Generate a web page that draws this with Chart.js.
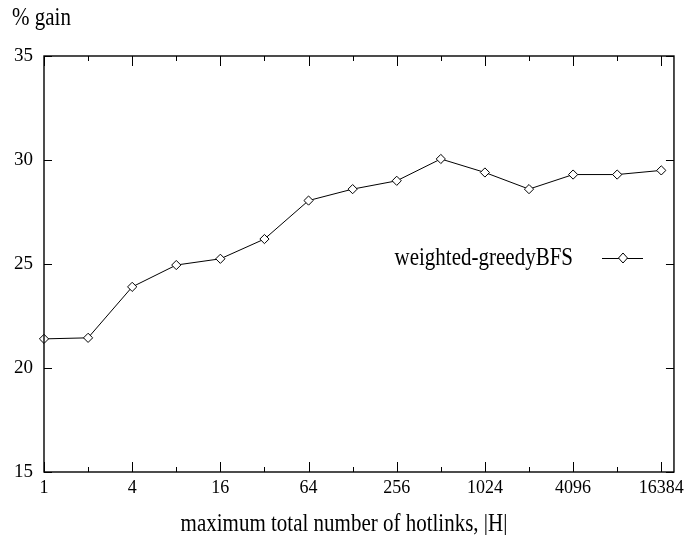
<!DOCTYPE html>
<html>
<head>
<meta charset="utf-8">
<script src="https://cdn.jsdelivr.net/npm/chart.js"></script>
<style>
  html, body { margin: 0; padding: 0; background: #fff; }
  #wrap { width: 689px; height: 535px; }
</style>
</head>
<body>
<div id="wrap"><canvas id="myChart" width="689" height="535"></canvas></div>
<script>
// hotlink budget |H| (powers of two) and % gain
var hotlinks = [1, 2, 4, 8, 16, 32, 64, 128, 256, 512, 1024, 2048, 4096, 8192, 16384];
var gain = [21.4, 21.45, 23.9, 24.95, 25.25, 26.2, 28.05, 28.6, 29.0, 30.05, 29.4, 28.6, 29.3, 29.3, 29.5];
var xTickLabels = [1, 4, 16, 64, 256, 1024, 4096, 16384];
var xMinorTicks = [2, 8, 32, 128, 512, 2048, 8192];
var yTickLabels = [15, 20, 25, 30, 35];

var serif = 'Liberation Serif';

// text in the original is a bit taller than wide
function tallText(ctx, text, x, y, align) {
    ctx.save();
    ctx.translate(x, y);
    ctx.scale(1, 1.2);
    ctx.textAlign = align;
    ctx.fillText(text, 0, 0);
    ctx.restore();
}

// frame, inward ticks, titles and legend drawn like the gnuplot original
var decorations = {
    id: 'decorations',
    afterDraw: function(chart) {
        var ctx = chart.ctx;
        var a = chart.chartArea;
        var xs = chart.scales.x;
        var ys = chart.scales.y;
        ctx.save();
        ctx.strokeStyle = '#000';
        ctx.lineWidth = 1.4;
        ctx.strokeRect(a.left, a.top, a.right - a.left, a.bottom - a.top);

        ctx.lineWidth = 1;
        ctx.beginPath();
        xTickLabels.forEach(function(v) {
            var px = Math.round(xs.getPixelForValue(v)) + 0.5;
            ctx.moveTo(px, a.bottom); ctx.lineTo(px, a.bottom - 10);
            ctx.moveTo(px, a.top); ctx.lineTo(px, a.top + 10);
        });
        xMinorTicks.forEach(function(v) {
            var px = Math.round(xs.getPixelForValue(v)) + 0.5;
            ctx.moveTo(px, a.bottom); ctx.lineTo(px, a.bottom - 5);
            ctx.moveTo(px, a.top); ctx.lineTo(px, a.top + 5);
        });
        yTickLabels.forEach(function(v) {
            var py = Math.round(ys.getPixelForValue(v)) + 0.5;
            ctx.moveTo(a.left, py); ctx.lineTo(a.left + 8, py);
            ctx.moveTo(a.right, py); ctx.lineTo(a.right - 8, py);
        });
        ctx.stroke();

        ctx.fillStyle = '#000';
        ctx.font = '21px "' + serif + '"';
        ctx.textBaseline = 'alphabetic';
        tallText(ctx, '% gain', 12, 25, 'left');
        tallText(ctx, 'maximum total number of hotlinks, |H|', 344, 531, 'center');

        // legend sample inside the plot
        var ly = 258;
        ctx.textBaseline = 'middle';
        tallText(ctx, 'weighted-greedyBFS', 573, ly, 'right');
        ctx.beginPath();
        ctx.moveTo(602, ly + 0.5); ctx.lineTo(643, ly + 0.5);
        ctx.stroke();
        var cx = 623, rx = 4.5, ry = 5;
        ctx.beginPath();
        ctx.moveTo(cx, ly - ry); ctx.lineTo(cx + rx, ly); ctx.lineTo(cx, ly + ry); ctx.lineTo(cx - rx, ly);
        ctx.closePath();
        ctx.fillStyle = '#fff';
        ctx.fill();
        ctx.stroke();
        ctx.restore();
    }
};

var main = function() {
    var ctx = document.getElementById('myChart');
    new Chart(ctx, {
        type: 'line',
        data: {
            datasets: [{
                label: 'weighted-greedyBFS',
                data: hotlinks.map(function(h, i) { return { x: h, y: gain[i] }; }),
                borderColor: '#000',
                borderWidth: 1,
                backgroundColor: '#fff',
                pointStyle: 'rectRot',
                pointRadius: 4.6,
                pointBorderWidth: 1,
                pointBackgroundColor: '#fff',
                pointBorderColor: '#000',
                tension: 0,
                fill: false,
                clip: false
            }]
        },
        options: {
            responsive: false,
            animation: false,
            layout: { padding: { top: 56, right: 11, left: 0, bottom: 0 } },
            plugins: {
                legend: { display: false },
                tooltip: { enabled: false }
            },
            scales: {
                x: {
                    type: 'logarithmic',
                    min: 1,
                    max: 20000,
                    afterBuildTicks: function(scale) {
                        scale.ticks = xTickLabels.map(function(v) { return { value: v }; });
                    },
                    afterFit: function(scale) { scale.height = 63; },
                    grid: { display: false, drawTicks: false },
                    border: { display: false },
                    ticks: {
                        autoSkip: false,
                        maxRotation: 0,
                        padding: 5,
                        color: '#000',
                        font: { family: serif, size: 18 },
                        callback: function(v) { return String(v); }
                    }
                },
                y: {
                    min: 15,
                    max: 35,
                    afterBuildTicks: function(scale) {
                        scale.ticks = yTickLabels.map(function(v) { return { value: v }; });
                    },
                    afterFit: function(scale) { scale.width = 44; },
                    grid: { display: false, drawTicks: false },
                    border: { display: false },
                    ticks: {
                        padding: 11,
                        color: '#000',
                        font: { family: serif, size: 19 }
                    }
                }
            }
        },
        plugins: [decorations]
    });
};

main();
</script>
</body>
</html>
